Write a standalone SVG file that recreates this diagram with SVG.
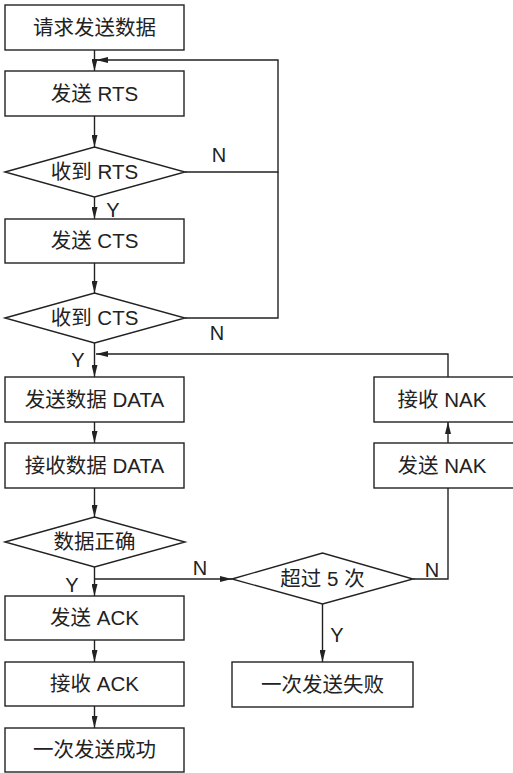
<svg xmlns="http://www.w3.org/2000/svg" width="513" height="773" viewBox="0 0 513 773">
<style>
.box{fill:#fff;stroke:#222;stroke-width:1.4}
.ln{fill:none;stroke:#222;stroke-width:1.4}
.t{font-family:"Liberation Sans","Noto Sans CJK SC",sans-serif;font-size:20.5px;fill:#222;text-anchor:middle}
.lb{font-family:"Liberation Sans","Noto Sans CJK SC",sans-serif;font-size:20px;fill:#222;text-anchor:middle}
</style>
<defs>
<marker id="ar" viewBox="0 0 12 6" refX="12" refY="3" markerWidth="12" markerHeight="6" markerUnits="userSpaceOnUse" orient="auto">
<path d="M0,0 L12,3 L0,6 Z" fill="#222"/>
</marker>
</defs>
<rect width="513" height="773" fill="#fff"/>
<g id="connectors">
<path class="ln" d="M94.5,50 V71" marker-end="url(#ar)"/>
<path class="ln" d="M94.5,116 V147" marker-end="url(#ar)"/>
<path class="ln" d="M94.5,197 V219" marker-end="url(#ar)"/>
<path class="ln" d="M94.5,263 V293" marker-end="url(#ar)"/>
<path class="ln" d="M94.5,343 V377" marker-end="url(#ar)"/>
<path class="ln" d="M94.5,422 V443" marker-end="url(#ar)"/>
<path class="ln" d="M94.5,488 V517" marker-end="url(#ar)"/>
<path class="ln" d="M94.5,567 V596" marker-end="url(#ar)"/>
<path class="ln" d="M94.5,640 V662" marker-end="url(#ar)"/>
<path class="ln" d="M94.5,706 V728" marker-end="url(#ar)"/>
<path class="ln" d="M185,172 H278 V60 H96" marker-end="url(#ar)"/>
<path class="ln" d="M185,318 H278 V172"/>
<path class="ln" d="M448,377 V354 H96" marker-end="url(#ar)"/>
<path class="ln" d="M94.5,579 H232" marker-end="url(#ar)"/>
<path class="ln" d="M322.5,604 V662" marker-end="url(#ar)"/>
<path class="ln" d="M413,579 H448 V488"/>
<path class="ln" d="M448,443 V422" marker-end="url(#ar)"/>
<text class="lb" x="219" y="162">N</text>
<text class="lb" x="113" y="217">Y</text>
<text class="lb" x="217" y="340">N</text>
<text class="lb" x="78" y="367">Y</text>
<text class="lb" x="200" y="575">N</text>
<text class="lb" x="72" y="592">Y</text>
<text class="lb" x="337" y="642">Y</text>
<text class="lb" x="432" y="577">N</text>
</g>
<g id="n1"><rect class="box" x="5" y="5" width="179" height="45"/><text class="t" x="94.5" y="34.5">请求发送数据</text></g>
<g id="n2"><rect class="box" x="5" y="71" width="179" height="45"/><text class="t" x="94.5" y="100.5">发送 RTS</text></g>
<g id="n3"><path class="box" d="M5,172 L94.5,147 L185,172 L94.5,197 Z"/><text class="t" x="94.5" y="179">收到 RTS</text></g>
<g id="n4"><rect class="box" x="5" y="219" width="179" height="44"/><text class="t" x="94.5" y="248">发送 CTS</text></g>
<g id="n5"><path class="box" d="M5,318 L94.5,293 L185,318 L94.5,343 Z"/><text class="t" x="94.5" y="325">收到 CTS</text></g>
<g id="n6"><rect class="box" x="5" y="377" width="179" height="45"/><text class="t" x="94.5" y="406.5">发送数据 DATA</text></g>
<g id="n7"><rect class="box" x="5" y="443" width="179" height="45"/><text class="t" x="94.5" y="472.5">接收数据 DATA</text></g>
<g id="n8"><path class="box" d="M5,542 L94.5,517 L185,542 L94.5,567 Z"/><text class="t" x="94.5" y="549">数据正确</text></g>
<g id="n9"><rect class="box" x="5" y="596" width="179" height="44"/><text class="t" x="94.5" y="625">发送 ACK</text></g>
<g id="n10"><rect class="box" x="5" y="662" width="179" height="44"/><text class="t" x="94.5" y="691">接收 ACK</text></g>
<g id="n11"><rect class="box" x="5" y="728" width="179" height="44"/><text class="t" x="94.5" y="757">一次发送成功</text></g>
<g id="n12"><path class="box" d="M232,579 L322.5,553 L413,579 L322.5,604 Z"/><text class="t" x="322.5" y="586">超过 5 次</text></g>
<g id="n13"><rect class="box" x="232" y="662" width="181" height="45"/><text class="t" x="322.5" y="691.5">一次发送失败</text></g>
<g id="n14"><rect class="box" x="374" y="377" width="150" height="45"/><text class="t" x="442" y="406.5">接收 NAK</text></g>
<g id="n15"><rect class="box" x="374" y="443" width="150" height="45"/><text class="t" x="442" y="472.5">发送 NAK</text></g>
</svg>
